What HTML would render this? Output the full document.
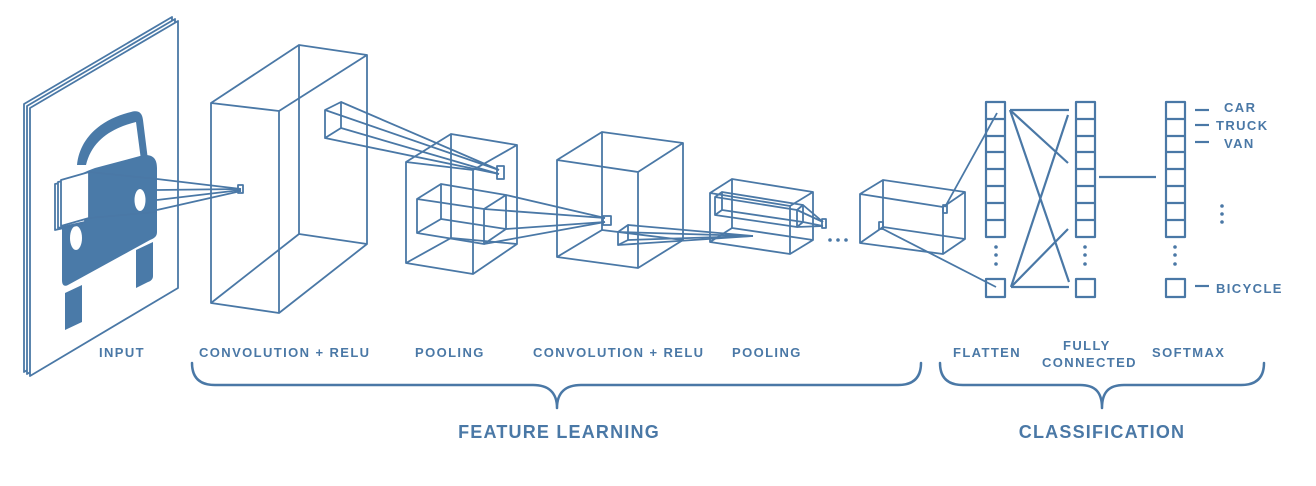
<!DOCTYPE html>
<html><head><meta charset="utf-8"><style>
html,body{margin:0;padding:0;background:#fff;}
svg{display:block;}
text{font-family:"Liberation Sans",sans-serif;font-weight:bold;fill:#4a78a6;}
</style></head><body>
<svg width="1316" height="486" viewBox="0 0 1316 486" xmlns="http://www.w3.org/2000/svg">
<g fill="none" stroke="#4a78a6" stroke-width="1.8" stroke-linejoin="round">
<polygon points="24,104 172,17 172,284 24,372" fill="#fff"/>
<polygon points="27,106 175,19 175,286 27,374" fill="#fff"/>
<polygon points="30,108 178,21 178,288 30,376" fill="#fff"/>
</g>
<g fill="#4a7aa8" stroke="none">
<path d="M77,165 C80,135 105,118 131,112 C138,110 142,112 143,120 L148,160 L141,160 L136,122 C112,128 92,140 86,165 Z"/>
<path d="M62,200 C62,185 75,175 95,168 L140,156 C152,153 157,158 157,168 L157,232 C157,236 155,238 150,240 L68,285 C64,287 62,285 62,280 Z"/>
<path d="M65,293 L82,285 L82,322 L65,330 Z"/>
<path d="M136,250 L153,242 L153,276 C153,279 151,281 148,282 L136,288 Z"/>
</g>
<g fill="#fff" stroke="none">
<ellipse cx="76" cy="238" rx="6" ry="12"/>
<ellipse cx="140" cy="200" rx="5.5" ry="11"/>
</g>
<g fill="none" stroke="#4a78a6" stroke-width="1.8" stroke-linejoin="round">
<polygon points="55,184 82,178 82,224 55,230" fill="#fff"/>
<polygon points="58,182 85,176 85,222 58,228" fill="#fff"/>
<polygon points="61,180 89,172 89,218 61,226" fill="#fff"/>
<line x1="89" y1="172" x2="157" y2="179"/>
<line x1="89" y1="218" x2="157" y2="212"/>
<line x1="157" y1="179" x2="241" y2="189"/>
<line x1="157" y1="190" x2="241" y2="189"/>
<line x1="157" y1="200" x2="241" y2="190"/>
<line x1="157" y1="210" x2="241" y2="191"/>
<rect x="238" y="185" width="5" height="8"/>
<polygon points="211,103 279,111 279,313 211,303"/>
<polygon points="299,45 367,55 367,244 299,234"/>
<line x1="211" y1="103" x2="299" y2="45"/><line x1="279" y1="111" x2="367" y2="55"/>
<line x1="279" y1="313" x2="367" y2="244"/><line x1="211" y1="303" x2="299" y2="234"/>
<polygon points="325,110 341,102 341,128 325,138"/>
<line x1="325" y1="110" x2="499" y2="170"/>
<line x1="341" y1="102" x2="499" y2="170"/>
<line x1="325" y1="138" x2="499" y2="174"/>
<line x1="341" y1="128" x2="499" y2="174"/>
<rect x="497" y="166" width="7" height="13"/>
<polygon points="406,162 473,170 473,274 406,263"/>
<polygon points="451,134 517,145 517,244 451,238"/>
<line x1="406" y1="162" x2="451" y2="134"/><line x1="473" y1="170" x2="517" y2="145"/>
<line x1="473" y1="274" x2="517" y2="244"/><line x1="406" y1="263" x2="451" y2="238"/>
<polygon points="417,199 484,209 484,244 417,233"/>
<polygon points="441,184 506,195 506,229 441,219"/>
<line x1="417" y1="199" x2="441" y2="184"/><line x1="484" y1="209" x2="506" y2="195"/>
<line x1="484" y1="244" x2="506" y2="229"/><line x1="417" y1="233" x2="441" y2="219"/>
<line x1="506" y1="195" x2="605" y2="218"/>
<line x1="506" y1="229" x2="605" y2="222"/>
<line x1="484" y1="209" x2="605" y2="218"/>
<line x1="484" y1="244" x2="605" y2="222"/>
<rect x="603" y="216" width="8" height="9"/>
<polygon points="557,160 638,172 638,268 557,257"/>
<polygon points="602,132 683,143 683,240 602,230"/>
<line x1="557" y1="160" x2="602" y2="132"/><line x1="638" y1="172" x2="683" y2="143"/>
<line x1="638" y1="268" x2="683" y2="240"/><line x1="557" y1="257" x2="602" y2="230"/>
<polygon points="618,232 628,225 628,240 618,245"/>
<line x1="628" y1="225" x2="753" y2="236"/>
<line x1="618" y1="232" x2="753" y2="236"/>
<line x1="628" y1="240" x2="753" y2="236"/>
<line x1="618" y1="245" x2="753" y2="236"/>
<polygon points="710,193 790,206 790,254 710,242"/>
<polygon points="732,179 813,192 813,240 732,228"/>
<line x1="710" y1="193" x2="732" y2="179"/><line x1="790" y1="206" x2="813" y2="192"/>
<line x1="790" y1="254" x2="813" y2="240"/><line x1="710" y1="242" x2="732" y2="228"/>
<polygon points="715,197 797,210 797,227 715,215"/>
<polygon points="722,192 803,205 803,222 722,210"/>
<line x1="715" y1="197" x2="722" y2="192"/><line x1="797" y1="210" x2="803" y2="205"/>
<line x1="797" y1="227" x2="803" y2="222"/><line x1="715" y1="215" x2="722" y2="210"/>
<line x1="797" y1="210" x2="823" y2="222"/><line x1="803" y1="205" x2="823" y2="222"/>
<line x1="797" y1="227" x2="823" y2="226"/><line x1="803" y1="222" x2="823" y2="226"/>
<rect x="822" y="219" width="4" height="9"/>
<polygon points="860,194 943,207 943,254 860,243"/>
<polygon points="883,180 965,192 965,239 883,227"/>
<line x1="860" y1="194" x2="883" y2="180"/><line x1="943" y1="207" x2="965" y2="192"/>
<line x1="943" y1="254" x2="965" y2="239"/><line x1="860" y1="243" x2="883" y2="227"/>
<rect x="943" y="205" width="4" height="8"/>
<rect x="879" y="222" width="4" height="7"/>
<line x1="945" y1="207" x2="997" y2="113"/>
<line x1="881" y1="228" x2="996" y2="287"/>
<g stroke-width="2.2">
<rect x="986" y="102" width="19" height="135"/>
<rect x="1076" y="102" width="19" height="135"/>
<rect x="1166" y="102" width="19" height="135"/>
<path d="M986,119H1005M986,136H1005M986,152H1005M986,169H1005M986,186H1005M986,203H1005M986,220H1005"/>
<path d="M1076,119H1095M1076,136H1095M1076,152H1095M1076,169H1095M1076,186H1095M1076,203H1095M1076,220H1095"/>
<path d="M1166,119H1185M1166,136H1185M1166,152H1185M1166,169H1185M1166,186H1185M1166,203H1185M1166,220H1185"/>
<rect x="986" y="279" width="19" height="18"/>
<rect x="1076" y="279" width="19" height="18"/>
<rect x="1166" y="279" width="19" height="18"/>
<line x1="1010" y1="110" x2="1069" y2="110"/>
<line x1="1010" y1="110" x2="1068" y2="163"/>
<line x1="1010" y1="110" x2="1069" y2="282"/>
<line x1="1011" y1="287" x2="1068" y2="115"/>
<line x1="1011" y1="287" x2="1068" y2="229"/>
<line x1="1011" y1="287" x2="1069" y2="287"/>
<line x1="1099" y1="177" x2="1156" y2="177"/>
<line x1="1195" y1="110" x2="1209" y2="110"/>
<line x1="1195" y1="125" x2="1209" y2="125"/>
<line x1="1195" y1="142" x2="1209" y2="142"/>
<line x1="1195" y1="286" x2="1209" y2="286"/>
</g>
<g stroke-width="2.5" stroke-linecap="round">
<path d="M192,363 C192,378 200,385 215,385 L533,385 C548,385 557,392 557,408 C557,392 566,385 581,385 L898,385 C913,385 921,378 921,363"/>
<path d="M940,363 C940,378 948,385 963,385 L1080,385 C1095,385 1102,392 1102,408 C1102,392 1109,385 1124,385 L1241,385 C1256,385 1264,378 1264,363"/>
</g>
</g>
<g fill="#4a78a6">
<circle cx="996" cy="247" r="1.8"/><circle cx="996" cy="255" r="1.8"/><circle cx="996" cy="264" r="1.8"/>
<circle cx="1085" cy="247" r="1.8"/><circle cx="1085" cy="255" r="1.8"/><circle cx="1085" cy="264" r="1.8"/>
<circle cx="1175" cy="247" r="1.8"/><circle cx="1175" cy="255" r="1.8"/><circle cx="1175" cy="264" r="1.8"/>
<circle cx="1222" cy="206" r="1.8"/><circle cx="1222" cy="214" r="1.8"/><circle cx="1222" cy="222" r="1.8"/>
<circle cx="830" cy="240" r="1.8"/><circle cx="838" cy="240" r="1.8"/><circle cx="846" cy="240" r="1.8"/>
</g>
<g font-size="13" letter-spacing="1.4">
<text x="1224" y="112">CAR</text>
<text x="1216" y="130">TRUCK</text>
<text x="1224" y="148">VAN</text>
<text x="1216" y="293">BICYCLE</text>
<text x="99" y="357">INPUT</text>
<text x="199" y="357">CONVOLUTION + RELU</text>
<text x="415" y="357">POOLING</text>
<text x="533" y="357">CONVOLUTION + RELU</text>
<text x="732" y="357">POOLING</text>
<text x="953" y="357">FLATTEN</text>
<text x="1063" y="350">FULLY</text>
<text x="1042" y="367">CONNECTED</text>
<text x="1152" y="357">SOFTMAX</text>
</g>
<g font-size="18" letter-spacing="1.2">
<text x="559" y="438" text-anchor="middle">FEATURE LEARNING</text>
<text x="1102" y="438" text-anchor="middle">CLASSIFICATION</text>
</g>
</svg>
</body></html>
